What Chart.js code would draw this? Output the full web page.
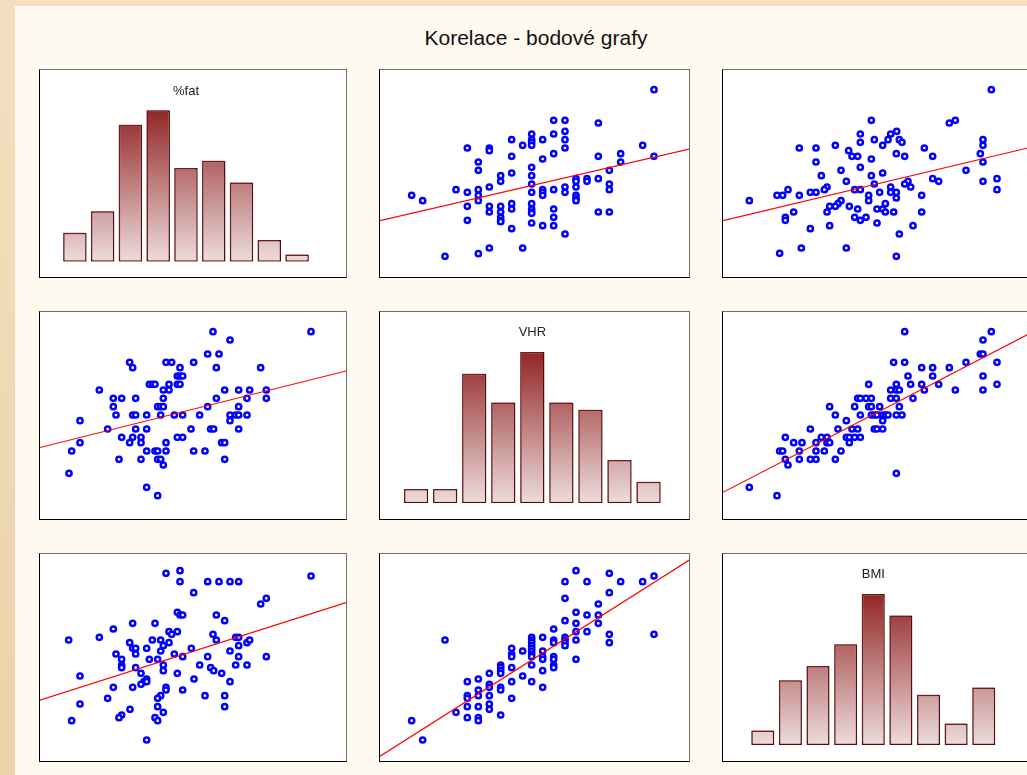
<!DOCTYPE html>
<html>
<head>
<meta charset="utf-8">
<title>Korelace - bodové grafy</title>
<script src="https://cdn.jsdelivr.net/npm/chart.js"></script>
<style>
  html, body { margin: 0; padding: 0; }
  body {
    width: 1027px; height: 775px; overflow: hidden; position: relative;
    background: linear-gradient(to bottom, #f3dfbf 0%, #efd7b2 60%, #ecd2aa 100%);
    font-family: "Liberation Sans", Arial, sans-serif;
  }
  #sheet { position: absolute; left: 15px; top: 6px; right: 0; bottom: 0; background: #fffaef; }
  #title {
    position: absolute; left: 0; top: 26px; width: 1072px; text-align: center;
    font-size: 21px; line-height: 24px; color: #111;
  }
  .panel {
    position: absolute; box-sizing: border-box; background: #fff;
    border: 1px solid #000; border-top-color: #6e6e6e; border-right-color: #6e6e6e;
  }
  .panel canvas { display: block; }
  .c1 { left: 39px; width: 308px; }
  .c2 { left: 379px; width: 311px; }
  .c3 { left: 722px; width: 311px; }
  .r1 { top: 69px; height: 209px; }
  .r2 { top: 311px; height: 209px; }
  .r3 { top: 553px; height: 209px; }
</style>
</head>
<body>
<div id="sheet"></div>
<div id="title">Korelace - bodové grafy</div>

<div class="panel c1 r1"><canvas id="p11" width="306" height="207"></canvas></div>
<div class="panel c2 r1"><canvas id="p12" width="309" height="207"></canvas></div>
<div class="panel c3 r1"><canvas id="p13" width="309" height="207"></canvas></div>
<div class="panel c1 r2"><canvas id="p21" width="306" height="207"></canvas></div>
<div class="panel c2 r2"><canvas id="p22" width="309" height="207"></canvas></div>
<div class="panel c3 r2"><canvas id="p23" width="309" height="207"></canvas></div>
<div class="panel c1 r3"><canvas id="p31" width="306" height="207"></canvas></div>
<div class="panel c2 r3"><canvas id="p32" width="309" height="207"></canvas></div>
<div class="panel c3 r3"><canvas id="p33" width="309" height="207"></canvas></div>

<script>
// histogram bins (counts)
const binLabels = ['1', '2', '3', '4', '5', '6', '7', '8', '9'];
const fatCounts = [4, 7, 19, 21, 13, 14, 11, 3, 1];
const vhrCounts = [2, 2, 18, 14, 21, 14, 13, 6, 3];
const bmiCounts = [2, 9, 11, 14, 21, 18, 7, 3, 8];

// scatter pairs [x, y], arbitrary units
// row 1: y = %fat
const vhrFatPts = [
  [85.2,61.1],[55.1,51.9],[58.5,51.9],[68.5,51.1],[58.5,48.6],[48.5,47.8],[55.1,47.8],[42.5,46.1],
  [48.5,46.1],[48.5,45.3],[48.5,44.4],[51.8,46.1],[58.5,46.1],[45.8,44.4],[81.8,44.4],[29.2,43.6],
  [35.8,43.6],[35.8,42.8],[58.5,43.6],[55.1,41.9],[75.2,41.9],[42.5,41.1],[68.5,41.1],[85.2,41.1],
  [51.8,40.3],[32.5,39.4],[75.2,39.4],[48.5,37.8],[32.5,36.9],[71.8,36.9],[42.5,36.1],[39.2,35.3],
  [48.5,35.3],[61.8,34.4],[61.8,33.6],[65.1,34.4],[65.1,33.6],[68.5,34.4],[39.2,33.6],[48.5,32.8],
  [71.8,32.8],[35.8,31.9],[58.5,31.9],[61.8,31.9],[25.8,31.1],[32.5,31.1],[55.1,31.1],[71.8,31.1],
  [51.8,31.1],[51.8,30.3],[51.8,29.4],[29.2,30.3],[48.5,30.3],[58.5,30.3],[12.5,29.4],[32.5,29.4],
  [61.8,29.4],[61.8,28.6],[61.8,27.8],[15.8,27.8],[32.5,27.8],[42.5,26.9],[48.5,26.9],[29.2,26.1],
  [35.8,26.1],[39.2,26.1],[42.5,25.3],[55.1,25.3],[48.5,25.3],[48.5,24.4],[48.5,24.0],[35.8,24.4],
  [39.2,24.4],[68.5,24.4],[71.8,24.4],[39.2,22.8],[39.2,21.9],[39.2,21.5],[55.1,22.8],[29.2,21.9],
  [48.5,21.1],[51.8,20.3],[55.1,20.3],[42.5,19.4],[58.5,17.8],[35.8,13.6],[45.8,13.6],[32.5,11.9],
  [22.5,11.1]
];
const bmiFatPts = [
  [83.8,61.1],[47.8,51.9],[71.2,51.1],[73.0,51.9],[55.4,48.6],[53.6,47.8],[44.5,47.8],[52.8,46.1],
  [56.2,46.1],[57.0,45.3],[48.7,46.1],[44.5,45.3],[81.3,46.1],[81.3,44.4],[51.2,44.4],[37.0,44.4],
  [26.2,43.6],[31.2,43.6],[63.7,43.6],[41.0,42.8],[42.0,41.1],[43.7,41.1],[55.3,41.9],[57.8,41.1],
  [66.2,41.1],[80.5,41.9],[47.8,40.3],[31.2,39.4],[81.3,39.4],[44.5,37.8],[38.7,36.9],[76.2,36.9],
  [51.2,36.1],[32.8,35.3],[47.8,35.3],[66.2,34.4],[68.0,33.6],[85.5,34.4],[40.3,33.6],[81.3,33.6],
  [58.8,33.6],[57.8,32.8],[59.6,31.9],[48.7,32.8],[34.5,31.9],[33.7,31.1],[22.8,31.1],[42.8,31.1],
  [44.5,31.1],[53.6,31.9],[85.5,31.1],[19.5,29.4],[21.2,29.4],[26.2,29.4],[29.5,30.3],[31.2,30.3],
  [50.3,30.3],[53.6,30.3],[55.3,30.3],[47.0,29.4],[62.9,29.4],[55.3,28.6],[47.0,27.8],[11.2,27.8],
  [38.7,27.8],[37.8,26.9],[37.0,26.1],[35.3,26.1],[41.2,26.1],[52.0,26.9],[43.7,25.3],[49.5,25.3],
  [51.2,25.3],[34.5,24.4],[24.5,24.4],[52.0,24.4],[54.5,24.4],[62.9,24.4],[22.0,22.8],[22.0,21.9],
  [42.8,22.8],[44.5,21.9],[46.2,22.8],[49.5,21.1],[29.5,19.4],[35.3,20.3],[60.3,20.3],[56.2,17.8],
  [26.8,13.6],[40.3,13.6],[20.3,12.0],[55.3,11.1]
];
// row 2: y = VHR
const fatVhrPts = [
  [54.9,60.5],[84.3,60.5],[60.0,58.0],[53.3,53.8],[56.7,53.8],[29.9,51.3],[30.8,49.7],[40.8,51.3],
  [42.5,51.3],[49.1,51.3],[45.0,49.7],[55.9,49.7],[69.2,49.7],[44.2,47.2],[45.0,47.2],[45.8,47.2],
  [35.8,44.7],[36.7,44.7],[37.5,44.7],[41.7,44.7],[44.2,44.7],[45.0,44.7],[20.8,43.0],[40.0,43.0],
  [41.7,43.0],[58.4,43.0],[62.6,43.0],[65.9,43.0],[70.9,43.0],[25.0,40.5],[27.5,40.5],[31.7,40.5],
  [40.0,40.5],[55.9,40.5],[65.1,40.5],[70.9,40.5],[25.0,38.0],[38.3,38.0],[39.2,38.0],[40.0,38.0],
  [53.3,38.0],[62.6,38.0],[25.8,35.5],[30.8,35.5],[31.7,35.5],[35.0,35.5],[39.2,35.5],[43.3,35.5],
  [45.8,35.5],[50.9,35.5],[60.0,35.5],[61.7,35.5],[62.6,35.5],[65.1,35.5],[15.0,33.8],[60.0,33.8],
  [23.3,31.3],[31.7,31.3],[35.0,31.3],[48.3,31.3],[54.2,31.3],[55.1,31.3],[62.6,31.3],[27.5,28.8],
  [30.8,28.8],[33.3,28.8],[44.2,28.8],[45.8,28.8],[15.0,27.2],[29.9,27.2],[33.3,27.2],[40.8,27.2],
  [57.5,27.2],[58.4,27.2],[12.5,24.7],[35.0,24.7],[37.5,24.7],[38.3,24.7],[40.8,24.7],[49.1,24.7],
  [52.5,24.7],[26.7,22.2],[33.3,22.2],[38.3,22.2],[39.2,22.2],[58.4,22.2],[40.0,20.5],[11.7,18.0],
  [35.0,13.8],[38.3,11.3]
];
const bmiVhrPts = [
  [57.8,60.5],[83.8,60.5],[81.3,58.0],[80.5,53.8],[81.3,53.8],[54.5,51.3],[57.8,51.3],[85.5,51.3],
  [76.2,51.3],[62.9,49.7],[66.2,49.7],[71.2,49.7],[58.8,47.2],[66.2,47.2],[81.3,47.2],[47.0,44.7],
  [55.3,44.7],[59.6,44.7],[62.9,44.7],[68.0,44.7],[85.5,44.7],[53.6,43.0],[55.3,43.0],[56.2,43.0],
  [63.7,43.0],[73.0,43.0],[81.3,43.0],[43.7,40.5],[44.5,40.5],[46.2,40.5],[47.8,40.5],[53.6,40.5],
  [55.3,40.5],[60.3,40.5],[35.3,38.0],[42.8,38.0],[47.0,38.0],[47.8,38.0],[50.3,38.0],[56.2,38.0],
  [37.0,35.5],[44.5,35.5],[47.8,35.5],[48.7,35.5],[49.5,35.5],[51.2,35.5],[52.0,35.5],[52.8,35.5],
  [55.3,35.5],[57.0,35.5],[40.3,33.8],[51.2,33.8],[29.5,31.3],[37.8,31.3],[42.0,31.3],[43.7,31.3],
  [48.7,31.3],[49.5,31.3],[51.2,31.3],[22.0,28.8],[32.8,28.8],[34.5,28.8],[40.3,28.8],[41.2,28.8],
  [42.8,28.8],[44.5,28.8],[24.5,27.2],[27.0,27.2],[31.2,27.2],[34.5,27.2],[35.3,27.2],[41.2,27.2],
  [20.3,24.7],[21.2,24.7],[26.2,24.7],[31.2,24.7],[33.7,24.7],[38.7,24.7],[22.0,22.2],[26.2,22.2],
  [29.5,22.2],[31.2,22.2],[37.0,22.2],[22.8,20.5],[55.3,18.0],[11.2,13.8],[19.5,11.3]
];
// row 3: y = BMI
const fatBmiPts = [
  [40.8,60.0],[45.0,60.8],[45.0,57.5],[53.3,57.5],[56.7,57.5],[60.0,57.5],[62.6,57.5],[84.3,59.2],
  [49.1,54.2],[70.9,52.5],[69.2,50.8],[44.2,48.3],[45.0,47.5],[45.8,47.5],[55.9,47.5],[58.4,45.8],
  [30.8,45.0],[37.5,45.0],[25.0,43.3],[41.7,42.5],[42.5,41.7],[44.2,42.5],[54.9,41.7],[55.9,40.0],
  [61.7,40.8],[62.6,40.8],[20.8,40.8],[11.6,40.0],[36.7,40.0],[39.2,40.0],[29.9,39.2],[41.7,39.2],
  [40.0,38.3],[30.8,37.5],[31.7,37.5],[35.0,37.5],[48.4,37.5],[65.1,39.2],[65.9,40.0],[62.6,38.3],
  [39.2,36.7],[60.0,36.7],[25.8,35.8],[31.7,35.8],[43.3,35.8],[45.8,35.0],[53.3,35.0],[62.6,35.0],
  [70.9,35.0],[27.5,34.2],[35.8,34.2],[38.3,34.2],[27.5,32.5],[27.5,31.7],[40.0,32.5],[50.9,32.5],
  [61.7,32.5],[65.1,32.5],[31.7,31.7],[54.2,31.7],[55.1,30.8],[40.0,30.8],[33.3,30.0],[44.2,30.0],
  [57.5,30.0],[15.0,29.2],[49.2,28.3],[35.0,28.3],[34.2,27.5],[33.3,26.7],[35.0,27.5],[60.0,27.5],
  [25.0,25.8],[30.8,25.8],[40.8,25.8],[40.8,25.0],[45.8,25.0],[52.5,23.3],[58.4,23.3],[39.2,23.3],
  [38.3,22.5],[23.3,22.5],[15.0,20.8],[38.3,20.0],[58.4,20.0],[30.0,19.2],[27.5,17.5],[26.7,16.7],
  [40.0,18.3],[37.5,16.7],[38.3,15.8],[12.5,15.8],[35.0,10.0]
];
const vhrBmiPts = [
  [61.8,60.8],[71.8,60.0],[85.2,59.2],[58.5,57.5],[65.1,57.5],[75.2,57.5],[81.8,57.5],[71.8,54.2],
  [58.5,52.5],[68.5,50.8],[61.8,48.3],[65.1,47.5],[68.5,47.5],[58.5,45.8],[61.8,45.0],[68.5,45.0],
  [55.1,43.3],[61.8,42.5],[65.1,42.5],[71.8,41.7],[85.2,41.7],[22.5,40.0],[48.5,40.8],[48.5,40.0],
  [48.5,39.2],[48.5,38.3],[48.5,37.5],[48.5,36.7],[48.5,35.8],[48.5,35.0],[51.8,40.8],[55.1,40.0],
  [55.1,39.2],[58.5,40.8],[58.5,40.0],[58.5,39.2],[58.5,38.3],[61.8,40.0],[71.8,39.2],[42.5,37.5],
  [45.8,36.7],[51.8,36.7],[42.5,35.8],[42.5,35.0],[51.8,35.0],[51.8,34.2],[55.1,35.0],[55.1,34.2],
  [61.8,34.2],[48.5,32.5],[39.2,32.5],[39.2,31.7],[39.2,30.8],[42.5,31.7],[55.1,32.5],[55.1,31.7],
  [51.8,30.8],[35.8,30.0],[39.2,30.0],[45.8,29.2],[32.5,28.3],[29.2,27.5],[42.5,27.5],[48.5,27.5],
  [35.8,26.7],[35.8,25.8],[51.8,25.8],[32.5,25.0],[39.2,25.8],[39.2,25.0],[29.2,23.3],[29.2,22.5],
  [32.5,23.3],[35.8,23.3],[42.5,22.5],[35.8,20.8],[29.2,20.0],[32.5,20.0],[35.8,19.2],[25.8,18.3],
  [39.2,17.5],[29.2,16.7],[32.5,16.7],[32.5,15.8],[12.5,15.8],[15.8,10.0]
];

// regression lines, two end values each
const vhrFatLine = [[2.8, 21.8], [95.8, 43.3]];
const bmiFatLine = [[3.2, 21.8], [96.0, 43.9]];
const fatVhrLine = [[2.8, 25.7], [94.8, 48.7]];
const bmiVhrLine = [[3.3, 12.3], [96.0, 60.3]];
const fatBmiLine = [[2.8, 21.9], [94.8, 51.2]];
const vhrBmiLine = [[2.8, 5.0], [95.8, 64.0]];

const font = 'Liberation Sans, Arial, sans-serif';
const asXY = arr => arr.map(p => ({ x: p[0], y: p[1] }));

// soft offset halo behind the histogram bars
const barHalo = {
  id: 'barHalo',
  beforeDatasetsDraw(chart) {
    const c = chart.ctx;
    c.save();
    c.shadowColor = 'rgba(140, 50, 50, 0.45)';
    c.shadowOffsetX = -1.5;
    c.shadowOffsetY = -2;
    c.shadowBlur = 0;
  },
  afterDatasetsDraw(chart) {
    chart.ctx.restore();
  }
};

function scatterPanel(id, pts, fit, xr, yr) {
  new Chart(document.getElementById(id), {
    type: 'scatter',
    data: {
      datasets: [
        { type: 'line', data: asXY(fit), borderColor: '#ff0000', borderWidth: 1.2,
          pointRadius: 0, fill: false },
        { data: asXY(pts), pointRadius: 2.6, pointHoverRadius: 2.6, pointBorderWidth: 2.5,
          pointBorderColor: '#0000ff', pointBackgroundColor: '#ffffff' }
      ]
    },
    options: {
      responsive: false,
      animation: false,
      layout: { padding: 0, autoPadding: false },
      plugins: { legend: { display: false }, tooltip: { enabled: false } },
      scales: {
        x: { type: 'linear', display: false, min: xr[0], max: xr[1] },
        y: { type: 'linear', display: false, min: yr[0], max: yr[1] }
      }
    }
  });
}

function histPanel(id, name, counts, box) {
  const peak = Math.max(...counts);
  new Chart(document.getElementById(id), {
    type: 'bar',
    data: {
      labels: binLabels,
      datasets: [{
        data: counts,
        backgroundColor: function (c) {
          const ch = c.chart, area = ch.chartArea;
          if (!area) return '#c08080';
          const g = ch.ctx.createLinearGradient(0, area.bottom, 0, ch.scales.y.getPixelForValue(peak));
          g.addColorStop(0, '#ecdcdc');
          g.addColorStop(1, '#932626');
          return g;
        },
        borderColor: '#560c0c',
        borderWidth: 1.5,
        borderSkipped: false,
        categoryPercentage: 1,
        barPercentage: box.bp
      }]
    },
    options: {
      responsive: false,
      animation: false,
      layout: { padding: { left: box.l, right: box.r, bottom: box.b, top: 0 }, autoPadding: false },
      plugins: {
        legend: { display: false },
        tooltip: { enabled: false },
        title: {
          display: true, text: name, color: '#222',
          font: { family: font, size: 13, weight: 'normal', lineHeight: 1.2 },
          padding: { top: box.t, bottom: 0 }
        }
      },
      scales: {
        x: { display: false },
        y: { display: false, min: 0, max: box.m }
      }
    },
    plugins: [barHalo]
  });
}

histPanel('p11', '%fat', fatCounts, { l: 21, r: 35, b: 15.3, t: 13.9, m: 22.5, bp: 0.845 });
scatterPanel('p12', vhrFatPts, vhrFatLine, [3.0, 95.7], [4.9, 67.0]);
scatterPanel('p13', bmiFatPts, bmiFatLine, [3.3, 96.0], [4.9, 67.0]);

scatterPanel('p21', fatVhrPts, fatVhrLine, [3.0, 94.8], [4.3, 66.4]);
histPanel('p22', 'VHR', vhrCounts, { l: 21.6, r: 25.9, b: 15.7, t: 12.2, m: 22.7, bp: 0.836 });
scatterPanel('p23', bmiVhrPts, bmiVhrLine, [3.3, 96.0], [4.3, 66.4]);

scatterPanel('p31', fatBmiPts, fatBmiLine, [3.0, 94.8], [3.7, 65.8]);
scatterPanel('p32', vhrBmiPts, vhrBmiLine, [3.0, 95.7], [3.7, 65.8]);
histPanel('p33', 'BMI', bmiCounts, { l: 26, r: 34.4, b: 16, t: 12.2, m: 22.7, bp: 0.833 });
</script>
</body>
</html>
